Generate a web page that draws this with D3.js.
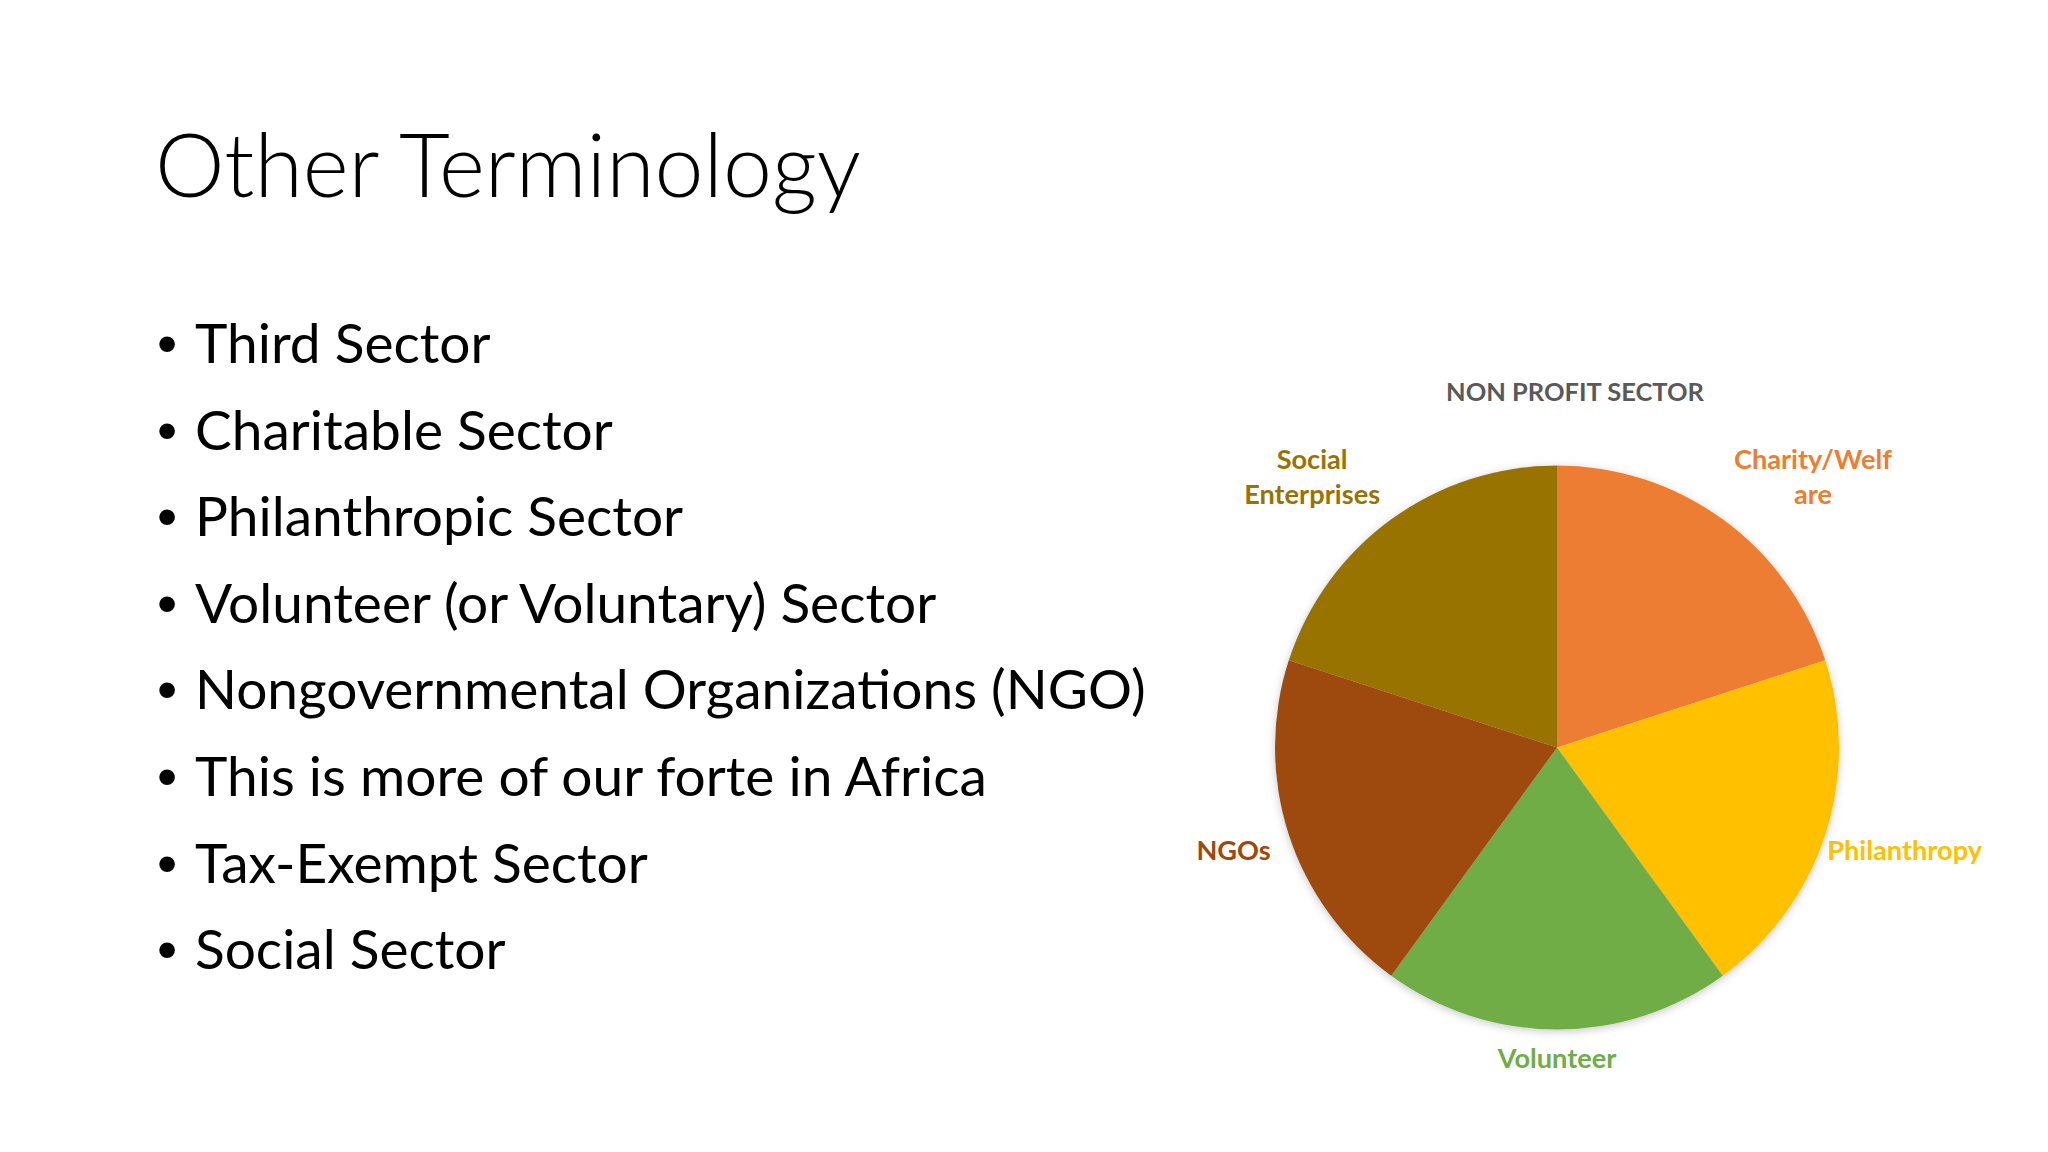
<!DOCTYPE html>
<html>
<head>
<meta charset="utf-8">
<script src="https://cdn.jsdelivr.net/npm/d3@7.9.0/dist/d3.min.js"></script>
<style>
  html, body { margin: 0; padding: 0; background: #fff; }
  svg { display: block; }
</style>
</head>
<body>
<svg id="slide" width="2048" height="1152"></svg>
<script>
// slide text
const slideTitle = "Other Terminology";
const bullets = [
  "Third Sector",
  "Charitable Sector",
  "Philanthropic Sector",
  "Volunteer (or Voluntary) Sector",
  "Nongovernmental Organizations (NGO)",
  "This is more of our forte in Africa",
  "Tax-Exempt Sector",
  "Social Sector"
];

// pie data - five equal slices, clockwise from 12 o'clock
const chartTitle = "NON PROFIT SECTOR";
const categories = ["Charity/Welfare", "Philanthropy", "Volunteer", "NGOs", "Social Enterprises"];
const values = [20, 20, 20, 20, 20];
const sliceColors = ["#ED7D31", "#FFC000", "#70AD47", "#9E480E", "#997300"];
// labels as they wrap on the slide
const labelLines = [["Charity/Welf", "are"], ["Philanthropy"], ["Volunteer"], ["NGOs"], ["Social", "Enterprises"]];

const svg = d3.select('#slide');
const font = "Lato, 'Open Sans', sans-serif";

// scale a text element's font-size so it is `target` px wide
function fitFont(sel, base, target) {
    sel.style('font-size', base + 'px');
    let w = sel.node().getComputedTextLength();
    let size = base * target / w;
    sel.style('font-size', size + 'px');
    return size;
}

/* title */
let title = svg.append('text')
    .attr('x', 155).attr('y', 197)
    .attr('font-family', font)
    .attr('font-weight', 300)
    .attr('fill', '#000')
    .text(slideTitle);
fitFont(title, 85, 706);

/* bullet list */
let lineGap = 86.6, firstBase = 363;
let probe = svg.append('text').attr('font-family', font).text(bullets[4]);
let bulletSize = fitFont(probe, 54, 951);
probe.remove();

let list = svg.append('g');
bullets.forEach((b, i) => {
    let y = firstBase + i * lineGap;
    list.append('text')
        .attr('x', 157).attr('y', y)
        .attr('font-family', "'Liberation Sans', Arial, sans-serif")
        .style('font-size', (bulletSize * 1.05) + 'px')
        .text('\u2022');
    list.append('text')
        .attr('x', 195).attr('y', y)
        .attr('font-family', font)
        .style('font-size', bulletSize + 'px')
        .attr('fill', '#000')
        .text(b);
});

/* pie chart */
let cx = 1557, cy = 747.5, radius = 282;
let chartRight = 1982; // labels are kept inside the chart frame

let defs = svg.append('defs');
let f = defs.append('filter').attr('id', 'shadow')
    .attr('x', '-10%').attr('y', '-10%').attr('width', '120%').attr('height', '120%');
f.append('feDropShadow')
    .attr('dx', 0).attr('dy', 2)
    .attr('stdDeviation', 4)
    .attr('flood-color', '#000')
    .attr('flood-opacity', 0.22);

let pie = d3.pie().sort(null).value(d => d);
let arcData = pie(values);
let arcGen = d3.arc().innerRadius(0).outerRadius(radius);

let plot = svg.append('g').attr('transform', `translate(${cx},${cy})`);
plot.append('g').attr('filter', 'url(#shadow)')
    .selectAll('path')
    .data(arcData)
    .join('path')
    .attr('d', arcGen)
    .attr('fill', (d, i) => sliceColors[i]);

// chart title
let ct = svg.append('text')
    .attr('x', 1575).attr('y', 401)
    .attr('text-anchor', 'middle')
    .attr('font-family', font)
    .attr('font-weight', 700)
    .attr('fill', '#595959')
    .text(chartTitle);
fitFont(ct, 26, 258);

// data labels, outside end
let lp = svg.append('text').attr('font-family', font).attr('font-weight', 700).text('Enterprises');
let labelSize = fitFont(lp, 24, 136);
lp.remove();
let capH = labelSize * 0.7165;
let lineH = 34.5;
let labelR = radius + 19;

arcData.forEach((d, i) => {
    let a = (d.startAngle + d.endAngle) / 2;
    let px = cx + labelR * Math.sin(a);
    let py = cy - labelR * Math.cos(a);
    let lines = labelLines[i];
    let anchor = Math.sin(a) > 0.1 ? 'start' : (Math.sin(a) < -0.1 ? 'end' : 'middle');
    let boxH = capH + (lines.length - 1) * lineH;
    let top;
    if (Math.cos(a) > 0.1) top = py - boxH;
    else if (Math.cos(a) < -0.1) top = py;
    else top = py - boxH / 2;

    let t = svg.append('text')
        .attr('font-family', font)
        .attr('font-weight', 700)
        .style('font-size', labelSize + 'px')
        .attr('fill', sliceColors[i])
        .attr('text-anchor', 'middle');
    // wrapped lines are centred on each other, block sits at the anchor side
    let widths = lines.map(l => {
        let tmp = svg.append('text').attr('font-family', font).attr('font-weight', 700)
            .style('font-size', labelSize + 'px').text(l);
        let w = tmp.node().getComputedTextLength();
        tmp.remove();
        return w;
    });
    let boxW = d3.max(widths);
    let midX = anchor == 'start' ? px + boxW / 2 : (anchor == 'end' ? px - boxW / 2 : px);
    if (midX + boxW / 2 > chartRight) midX = chartRight - boxW / 2;
    lines.forEach((l, j) => {
        t.append('tspan')
            .attr('x', midX)
            .attr('y', top + capH + j * lineH)
            .text(l);
    });
});
</script>
</body>
</html>
